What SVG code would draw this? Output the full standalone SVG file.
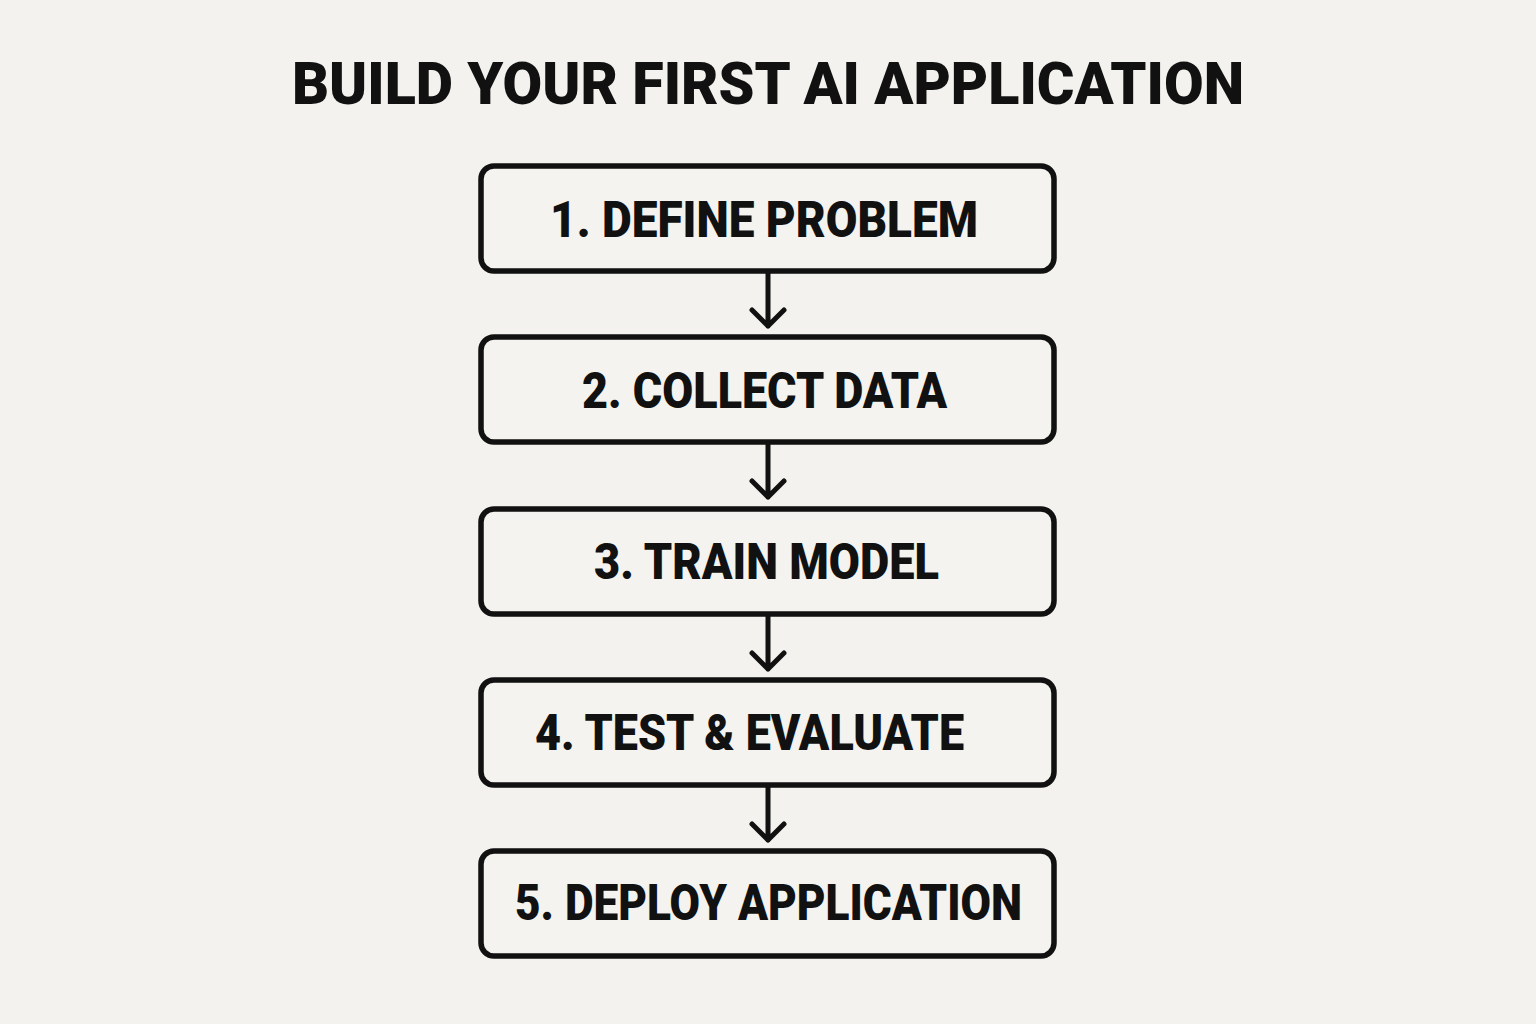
<svg xmlns="http://www.w3.org/2000/svg" width="1536" height="1024" viewBox="0 0 1536 1024">
<defs>
<style>
.bg{fill:#f3f2ee}
.box{fill:#f4f3ef;stroke:#111;stroke-width:5.5}
.lbl{font-family:Roboto,"Liberation Sans",sans-serif;font-weight:900;font-size:50px;fill:#111}
.ttl{font-family:Roboto,"Liberation Sans",sans-serif;font-weight:900;font-size:59px;fill:#111}
.edge{fill:none;stroke:#111;stroke-width:5;stroke-linecap:round;stroke-linejoin:round}
</style>
</defs>
<rect class="bg" x="0" y="0" width="1536" height="1024"/>
<text class="ttl" x="292" y="104" textLength="952" lengthAdjust="spacingAndGlyphs">BUILD YOUR FIRST AI APPLICATION</text>
<g id="connectors">
<path class="edge" d="M768 273 V326 M752 310 L768 326 L784 310"/>
<path class="edge" d="M768 444 V497 M752 481 L768 497 L784 481"/>
<path class="edge" d="M768 616 V669 M752 653 L768 669 L784 653"/>
<path class="edge" d="M768 787 V840 M752 824 L768 840 L784 824"/>
</g>
<g id="node1">
<rect class="box" x="481" y="166" width="573" height="105" rx="13"/>
<text class="lbl" x="550" y="237" textLength="428" lengthAdjust="spacingAndGlyphs">1. DEFINE PROBLEM</text>
</g>
<g id="node2">
<rect class="box" x="481" y="337" width="573" height="105" rx="13"/>
<text class="lbl" x="582" y="408" textLength="365" lengthAdjust="spacingAndGlyphs">2. COLLECT DATA</text>
</g>
<g id="node3">
<rect class="box" x="481" y="509" width="573" height="105" rx="13"/>
<text class="lbl" x="594" y="579" textLength="345" lengthAdjust="spacingAndGlyphs">3. TRAIN MODEL</text>
</g>
<g id="node4">
<rect class="box" x="481" y="680" width="573" height="105" rx="13"/>
<text class="lbl" x="535" y="750" textLength="429" lengthAdjust="spacingAndGlyphs">4. TEST &amp; EVALUATE</text>
</g>
<g id="node5">
<rect class="box" x="481" y="851" width="573" height="105" rx="13"/>
<text class="lbl" x="515" y="920" textLength="507" lengthAdjust="spacingAndGlyphs">5. DEPLOY APPLICATION</text>
</g>
</svg>
